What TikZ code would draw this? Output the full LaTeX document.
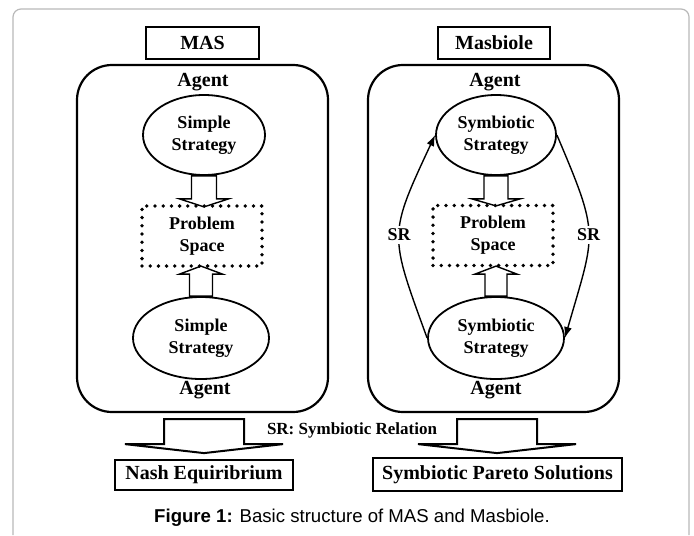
\documentclass[tikz,border=0pt]{standalone}
\usepackage{fontspec}
\setmainfont{Liberation Serif}
\setsansfont{Liberation Sans}
\usetikzlibrary{arrows.meta,positioning,shapes.geometric}
% hollow block arrow: start, shaft half width, wing, shaft length, head length
\newcommand{\blockarrow}[6][]{\draw[blockarr,#1] (#2) ++(-#3,0) -- ++(0,#5) -- ++(-#4,0) -- ++(#3+#4,#6) -- ++(#3+#4,{-(#6)}) -- ++(-#4,0) -- ++(0,{-(#5)}) -- cycle;}

\begin{document}
\begin{tikzpicture}[x=0.5pt,y=-0.5pt,
	titlebox/.style={draw,line width=1pt,minimum width=#1,minimum height=16pt,inner sep=0pt,font=\fontsize{10}{12}\selectfont\bfseries},
	agentbox/.style={draw,line width=1.1pt,rounded corners=17.5pt,minimum width=125.5pt,minimum height=173.5pt},
	strat/.style={ellipse,draw,line width=0.9pt,inner sep=0pt,align=center,font=\fontsize{9}{11}\selectfont\bfseries},
	probspace/.style={draw,line width=1.9pt,line cap=round,dash pattern=on 0pt off 4.1pt,minimum width=60pt,minimum height=30pt,inner sep=0pt,align=center,font=\fontsize{9}{11}\selectfont\bfseries},
	lbl/.style={font=\fontsize{10}{12}\selectfont\bfseries},
	srlbl/.style={fill=white,inner sep=1.5pt,font=\fontsize{9}{11}\selectfont\bfseries},
	srlink/.style={line width=0.7pt,-{Latex[length=5.5pt,width=4pt]},looseness=1.4},
	blockarr/.style={line width=0.7pt},
	resbox/.style={draw,line width=1.2pt,minimum height=#1,inner sep=3pt,font=\fontsize{10}{12}\selectfont\bfseries}]
	\useasboundingbox (0,0) rectangle (694,535);
	\draw[gray!55,line width=0.6pt,rounded corners=4pt] (13,535) -- (13,9) -- (689,9) -- (689,535);

	% MAS
	\node[titlebox=56.5pt] (mas) at (202.5,43) {MAS};
	\node[agentbox] (agL) at (202.5,238.5) {};
	\node[lbl] (agLt) at (203,82) {Agent};
	\node[lbl] (agLb) at (205,390) {Agent};
	\node[strat,minimum width=61pt,minimum height=40pt] (stL) at (204,135) {Simple\\Strategy};
	\node[strat,minimum width=68pt,minimum height=41pt] (sbL) at (201,338) {Simple\\Strategy};
	\node[probspace] (psL) at (202,236) {Problem\\Space};
	\blockarrow{stL.south}{12.5}{12}{23}{8}
	\blockarrow{sbL.north}{11.5}{10}{-22}{-8}

	% Masbiole
	\node[titlebox=56pt] (masb) at (494,43) {Masbiole};
	\node[agentbox] (agR) at (493.5,238.5) {};
	\node[lbl] (agRt) at (495,82) {Agent};
	\node[lbl] (agRb) at (496,390) {Agent};
	\node[strat,minimum width=60pt,minimum height=40pt] (stR) at (496,135) {Symbiotic\\Strategy};
	\node[strat,minimum width=68pt,minimum height=41pt] (sbR) at (496,338) {Symbiotic\\Strategy};
	\node[probspace] (psR) at (493,235.5) {Problem\\Space};
	\blockarrow{stR.south}{12}{12}{23}{7}
	\blockarrow{sbR.north}{11}{10}{-22}{-8}
	\draw[srlink] (sbR.west) to[out=110,in=245] node[srlbl] {SR} (stR.west);
	\draw[srlink] (stR.east) to[out=-67,in=74] node[srlbl] {SR} (sbR.east);

	% results
	\blockarrow[line width=1pt]{[xshift=0.75pt,yshift=-3pt]agL.south}{40}{39}{25}{9}
	\blockarrow[line width=1pt]{[xshift=1.75pt,yshift=-3pt]agR.south}{40}{39}{25}{9}
	\node[font=\fontsize{8.5}{10}\selectfont\bfseries] (srnote) at (352,430) {SR: Symbiotic Relation};
	\node[resbox=15pt,minimum width=89pt] (nash) at (204,475) {Nash Equiribrium};
	\node[resbox=16.5pt,minimum width=124.5pt] (pareto) at (497.5,474.5) {Symbiotic Pareto Solutions};

	\node[font=\sffamily\fontsize{9.3}{11}\selectfont] (caption) at (352,518) {\textbf{Figure 1:} Basic structure of MAS and Masbiole.};
\end{tikzpicture}
\end{document}
